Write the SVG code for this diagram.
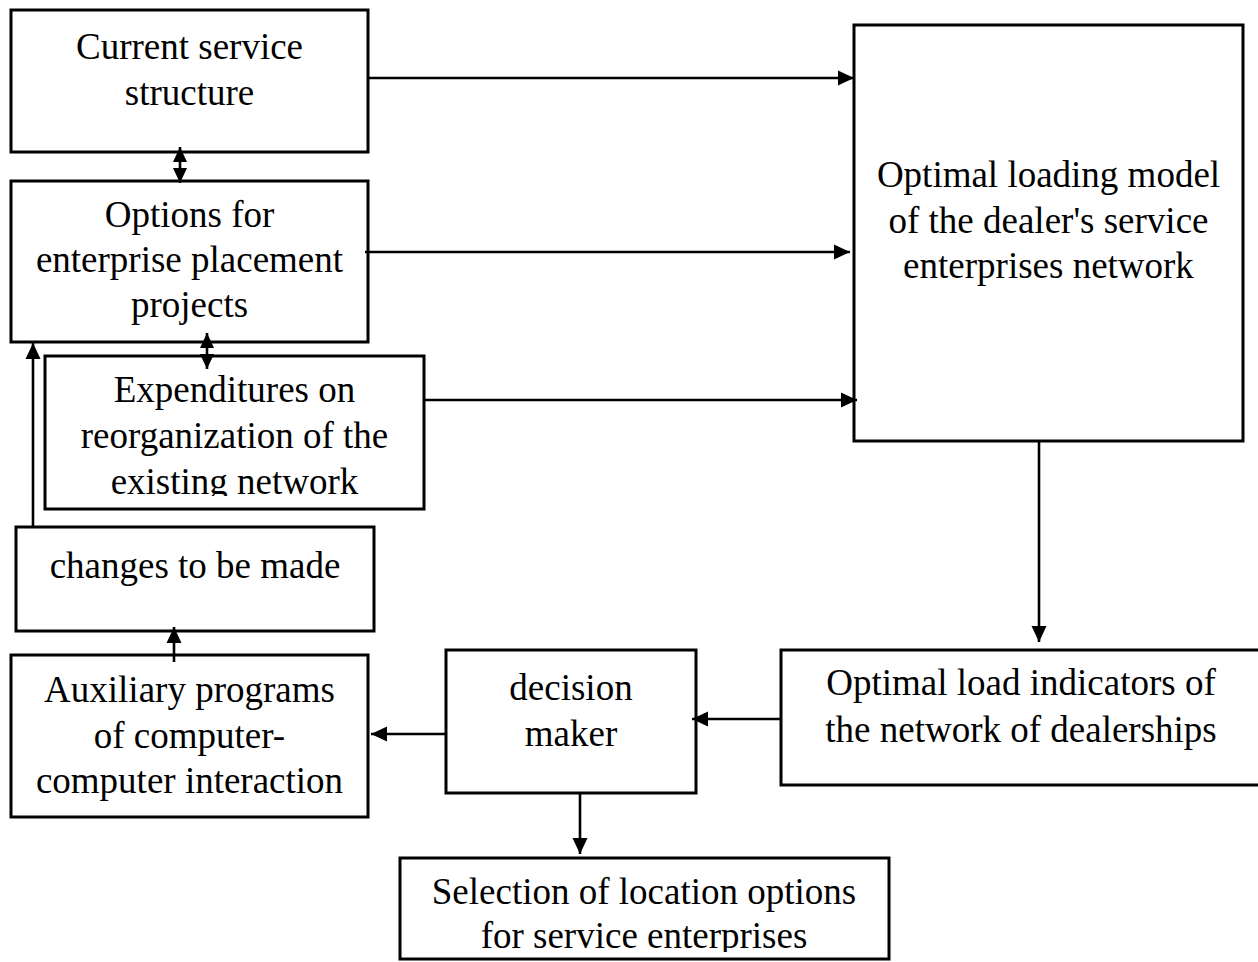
<svg xmlns="http://www.w3.org/2000/svg" width="1258" height="962" viewBox="0 0 1258 962">
<style>
.box{fill:#fff;stroke:#000;stroke-width:3}
.t{font-family:"Liberation Serif","Times New Roman",serif;font-size:37px;fill:#000;text-anchor:middle}
.c{fill:none;stroke:#000;stroke-width:2.6}
</style>
<defs>
<marker id="ah" markerUnits="userSpaceOnUse" markerWidth="17" markerHeight="17" viewBox="0 0 17 17" refX="16" refY="8.5" orient="auto-start-reverse">
<path d="M0,1 L16,8.5 L0,16 Z" fill="#000"/>
</marker>
<marker id="as" markerUnits="userSpaceOnUse" markerWidth="16" markerHeight="16" viewBox="0 0 16 16" refX="15" refY="8" orient="auto-start-reverse">
<path d="M0,1 L15,8 L0,15 Z" fill="#000"/>
</marker>
<clipPath id="clip3"><rect x="40" y="350" width="390" height="146"/></clipPath>
<clipPath id="clip7"><rect x="395" y="850" width="500" height="102"/></clipPath>
</defs>
<rect width="1258" height="962" fill="#fff"/>

<g id="n1">
<rect class="box" x="11" y="10" width="357" height="142"/>
<text class="t" x="189.5" y="59">Current service</text>
<text class="t" x="189.5" y="105">structure</text>
</g>
<g id="n2">
<rect class="box" x="11" y="181" width="357" height="161"/>
<text class="t" x="189.5" y="227">Options for</text>
<text class="t" x="189.5" y="272">enterprise placement</text>
<text class="t" x="189.5" y="317">projects</text>
</g>
<g id="n3">
<rect class="box" x="45" y="356" width="379" height="153"/>
<g clip-path="url(#clip3)">
<text class="t" x="234.5" y="402">Expenditures on</text>
<text class="t" x="234.5" y="448">reorganization of the</text>
<text class="t" x="234.5" y="494">existing network</text>
</g>
</g>
<g id="n4">
<rect class="box" x="16" y="527" width="358" height="104"/>
<text class="t" x="195" y="578">changes to be made</text>
</g>
<g id="n5">
<rect class="box" x="11" y="655" width="357" height="162"/>
<text class="t" x="189.5" y="702">Auxiliary programs</text>
<text class="t" x="189.5" y="748">of computer-</text>
<text class="t" x="189.5" y="793">computer interaction</text>
</g>
<g id="n6">
<rect class="box" x="446" y="650" width="250" height="143"/>
<text class="t" x="571" y="700">decision</text>
<text class="t" x="571" y="746">maker</text>
</g>
<g id="n7">
<rect class="box" x="400" y="858" width="489" height="101"/>
<g clip-path="url(#clip7)">
<text class="t" x="644" y="904">Selection of location options</text>
<text class="t" x="644" y="948">for service enterprises</text>
</g>
</g>
<g id="n8">
<rect class="box" x="854" y="25" width="389" height="416"/>
<text class="t" x="1048.5" y="187">Optimal loading model</text>
<text class="t" x="1048.5" y="233">of the dealer's service</text>
<text class="t" x="1048.5" y="278">enterprises network</text>
</g>
<g id="n9">
<rect class="box" x="781" y="650" width="490" height="135"/>
<text class="t" x="1021" y="695">Optimal load indicators of</text>
<text class="t" x="1021" y="742">the network of dealerships</text>
</g>

<g id="connectors">
<line class="c" x1="368" y1="78" x2="854" y2="78" marker-end="url(#ah)"/>
<line class="c" x1="365" y1="252" x2="850" y2="252" marker-end="url(#ah)"/>
<line class="c" x1="424" y1="400" x2="857" y2="400" marker-end="url(#ah)"/>
<line class="c" x1="180" y1="147" x2="180" y2="183" marker-start="url(#as)" marker-end="url(#as)"/>
<line class="c" x1="207" y1="333" x2="207" y2="369" marker-start="url(#as)" marker-end="url(#as)"/>
<line class="c" x1="33" y1="527" x2="33" y2="343" marker-end="url(#ah)"/>
<line class="c" x1="174" y1="662" x2="174" y2="627" marker-end="url(#ah)"/>
<line class="c" x1="446" y1="734" x2="371" y2="734" marker-end="url(#ah)"/>
<line class="c" x1="781" y1="719" x2="692" y2="719" marker-end="url(#ah)"/>
<line class="c" x1="580" y1="793" x2="580" y2="854" marker-end="url(#ah)"/>
<line class="c" x1="1039" y1="441" x2="1039" y2="642" marker-end="url(#ah)"/>
</g>
</svg>
